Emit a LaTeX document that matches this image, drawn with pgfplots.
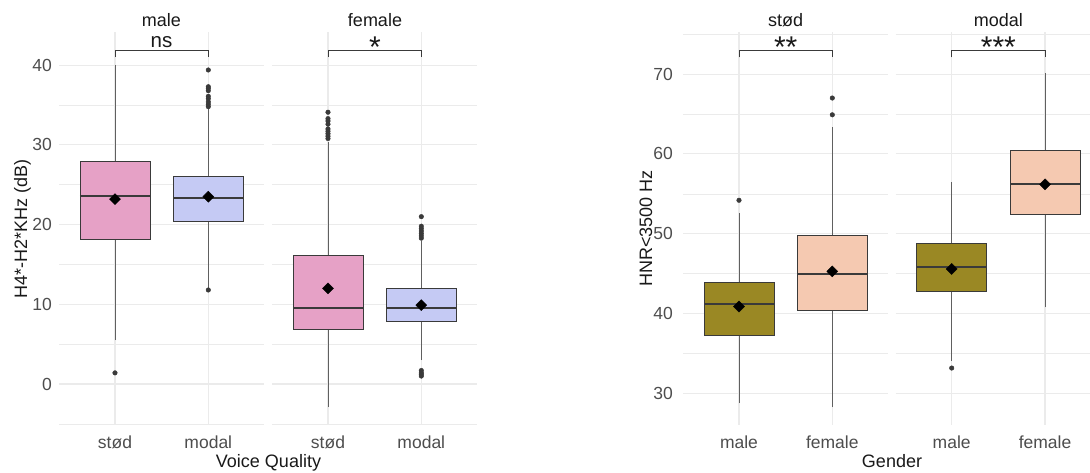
\documentclass[border=0pt]{standalone}
\usepackage{fontspec}
\setmainfont{Liberation Sans}
\usepackage{pgfplots}
\pgfplotsset{compat=1.18}
\definecolor{pinkc}{HTML}{E6A1C6}
\definecolor{bluec}{HTML}{C5CAF4}
\definecolor{olivec}{HTML}{9A8824}
\definecolor{peachc}{HTML}{F5C9B1}
\definecolor{gridc}{HTML}{EBEBEB}
\definecolor{tickc}{HTML}{4D4D4D}
\definecolor{edgec}{HTML}{3A3A3A}
\definecolor{whc}{HTML}{606060}
\pgfplotsset{
  facet/.style={
    scale only axis, width=205.3pt, height=392.8pt, anchor=south west,
    xmin=0.4, xmax=2.6, xtick={1,2},
    axis line style={draw=none}, major tick length=0pt, minor tick length=0pt,
    xmajorgrids, ymajorgrids, yminorgrids,
    major grid style={gridc, line width=1.1pt},
    minor grid style={gridc, line width=0.6pt},
    tick label style={font=\fontsize{17.5}{19}\selectfont, text=tickc},
    /pgf/number format/assume math mode=true,
    xticklabel style={anchor=base, yshift=-23pt, inner sep=0pt},
    yticklabel style={anchor=east, inner sep=0pt, xshift=-7pt},
    clip=false,
  },
  wh/.style={whc, line width=0.9pt, mark=none},
  bxs/.style={fill=#1, draw=edgec, line width=0.9pt, mark=none},
  med/.style={edgec, line width=2pt, mark=none},
  outl/.style={only marks, mark=*, mark size=2.3pt, color=edgec},
  meanm/.style={only marks, mark=square*, mark size=3.9pt, mark options={rotate=45, fill=black, draw=black}},
  brk/.style={edgec, line width=0.9pt, mark=none},
}
\begin{document}
\begin{tikzpicture}
\path[use as bounding box] (0,0) rectangle (1090pt,472pt);
% ---------------- left panel, facet male
\begin{axis}[facet, at={(59pt,47pt)}, ymin=-5.14, ymax=44.14,
  ytick={0,10,20,30,40}, minor ytick={-5,5,15,25,35},
  xticklabels={stød, modal}]
% stød: lw 5.5, lq 18.2, med 23.6, uq 27.9, uw 40.0
\addplot[wh] coordinates {(1,5.5) (1,18.2)};
\addplot[wh] coordinates {(1,27.9) (1,40.0)};
\addplot[bxs=pinkc] coordinates {(0.625,18.2) (1.375,18.2) (1.375,27.9) (0.625,27.9)} --cycle;
\addplot[med] coordinates {(0.625,23.6) (1.375,23.6)};
% modal: lw 12.1, lq 20.4, med 23.3, uq 26.1, uw 34.5
\addplot[wh] coordinates {(2,12.1) (2,20.4)};
\addplot[wh] coordinates {(2,26.1) (2,34.5)};
\addplot[bxs=bluec] coordinates {(1.625,20.4) (2.375,20.4) (2.375,26.1) (1.625,26.1)} --cycle;
\addplot[med] coordinates {(1.625,23.3) (2.375,23.3)};
\addplot[outl] coordinates {(1,1.4) (2,11.8) (2,34.8) (2,35.1) (2,35.4) (2,35.8) (2,36.1) (2,36.8) (2,37.1) (2,37.3) (2,39.4)};
\addplot[meanm] coordinates {(1,23.2) (2,23.5)};
\addplot[brk] coordinates {(1,41.0) (1,41.9) (2,41.9) (2,41.0)};
\end{axis}
% ---------------- left panel, facet female
\begin{axis}[facet, at={(272pt,47pt)}, ymin=-5.14, ymax=44.14,
  ytick={0,10,20,30,40}, minor ytick={-5,5,15,25,35}, yticklabels={},
  xticklabels={stød, modal}]
% stød: lw -2.9, lq 6.8, med 9.6, uq 16.1, uw 30.4
\addplot[wh] coordinates {(1,-2.9) (1,6.8)};
\addplot[wh] coordinates {(1,16.1) (1,30.4)};
\addplot[bxs=pinkc] coordinates {(0.625,6.8) (1.375,6.8) (1.375,16.1) (0.625,16.1)} --cycle;
\addplot[med] coordinates {(0.625,9.6) (1.375,9.6)};
% modal: lw 3.0, lq 7.8, med 9.6, uq 12.0, uw 18.0
\addplot[wh] coordinates {(2,3.0) (2,7.8)};
\addplot[wh] coordinates {(2,12.0) (2,18.0)};
\addplot[bxs=bluec] coordinates {(1.625,7.8) (2.375,7.8) (2.375,12.0) (1.625,12.0)} --cycle;
\addplot[med] coordinates {(1.625,9.6) (2.375,9.6)};
\addplot[outl] coordinates {(1,30.8) (1,31.1) (1,31.4) (1,31.7) (1,32.0) (1,32.6) (1,33.0) (1,33.3) (1,34.1)
  (2,18.3) (2,18.6) (2,18.9) (2,19.2) (2,19.5) (2,19.8) (2,21.0) (2,1.0) (2,1.2) (2,1.4) (2,1.7)};
\addplot[meanm] coordinates {(1,12.0) (2,9.9)};
\addplot[brk] coordinates {(1,41.0) (1,41.9) (2,41.9) (2,41.0)};
\end{axis}
% ---------------- right panel, facet stød
\begin{axis}[facet, at={(683pt,47pt)}, ymin=26.07, ymax=75.24,
  ytick={30,40,50,60,70}, minor ytick={35,45,55,65,75},
  yticklabel style={xshift=-3pt},
  xticklabels={male, female}]
% male: lw 28.8, lq 37.25, med 41.25, uq 43.96, uw 52.6
\addplot[wh] coordinates {(1,28.8) (1,37.25)};
\addplot[wh] coordinates {(1,43.96) (1,52.6)};
\addplot[bxs=olivec] coordinates {(0.625,37.25) (1.375,37.25) (1.375,43.96) (0.625,43.96)} --cycle;
\addplot[med] coordinates {(0.625,41.25) (1.375,41.25)};
% female: lw 28.3, lq 40.4, med 45.0, uq 49.75, uw 63.4
\addplot[wh] coordinates {(2,28.3) (2,40.4)};
\addplot[wh] coordinates {(2,49.75) (2,63.4)};
\addplot[bxs=peachc] coordinates {(1.625,40.4) (2.375,40.4) (2.375,49.75) (1.625,49.75)} --cycle;
\addplot[med] coordinates {(1.625,45.0) (2.375,45.0)};
\addplot[outl] coordinates {(1,54.2) (2,64.9) (2,67.0)};
\addplot[meanm] coordinates {(1,40.9) (2,45.3)};
\addplot[brk] coordinates {(1,72.1) (1,73.0) (2,73.0) (2,72.1)};
\end{axis}
% ---------------- right panel, facet modal
\begin{axis}[facet, at={(895.7pt,47pt)}, ymin=26.07, ymax=75.24,
  ytick={30,40,50,60,70}, minor ytick={35,45,55,65,75}, yticklabels={},
  xticklabels={male, female}]
% male: lw 34.1, lq 42.75, med 45.8, uq 48.75, uw 56.5
\addplot[wh] coordinates {(1,34.1) (1,42.75)};
\addplot[wh] coordinates {(1,48.75) (1,56.5)};
\addplot[bxs=olivec] coordinates {(0.625,42.75) (1.375,42.75) (1.375,48.75) (0.625,48.75)} --cycle;
\addplot[med] coordinates {(0.625,45.8) (1.375,45.8)};
% female: lw 40.8, lq 52.4, med 56.3, uq 60.4, uw 70.1
\addplot[wh] coordinates {(2,40.8) (2,52.4)};
\addplot[wh] coordinates {(2,60.4) (2,70.1)};
\addplot[bxs=peachc] coordinates {(1.625,52.4) (2.375,52.4) (2.375,60.4) (1.625,60.4)} --cycle;
\addplot[med] coordinates {(1.625,56.3) (2.375,56.3)};
\addplot[outl] coordinates {(1,33.2)};
\addplot[meanm] coordinates {(1,45.6) (2,56.2)};
\addplot[brk] coordinates {(1,72.1) (1,73.0) (2,73.0) (2,72.1)};
\end{axis}
% ---------------- texts
\begin{scope}[every node/.style={anchor=base, inner sep=0pt, text=black!90}]
\node[font=\fontsize{18}{20}\selectfont] at (161.5pt,445.3pt) {male};
\node[font=\fontsize{18}{20}\selectfont] at (375pt,445.3pt) {female};
\node[font=\fontsize{18}{20}\selectfont] at (785.7pt,445.3pt) {stød};
\node[font=\fontsize{18}{20}\selectfont] at (998.4pt,445.3pt) {modal};
\node[font=\fontsize{20.5}{22}\selectfont] at (161.5pt,424.3pt) {ns};
\node[font=\fontsize{30}{32}\selectfont] at (375pt,414pt) {*};
\node[font=\fontsize{30}{32}\selectfont] at (785.7pt,414pt) {**};
\node[font=\fontsize{30}{32}\selectfont] at (998.4pt,414pt) {***};
\node[font=\fontsize{18}{20}\selectfont] at (268.5pt,4.3pt) {Voice Quality};
\node[font=\fontsize{18}{20}\selectfont] at (892pt,4.3pt) {Gender};
\node[font=\fontsize{18}{20}\selectfont, rotate=90] at (27pt,243.5pt) {H4*-H2*KHz (dB)};
\node[font=\fontsize{18}{20}\selectfont, rotate=90] at (652pt,243.5pt) {HNR<3500 Hz};
\end{scope}
\end{tikzpicture}
\end{document}
